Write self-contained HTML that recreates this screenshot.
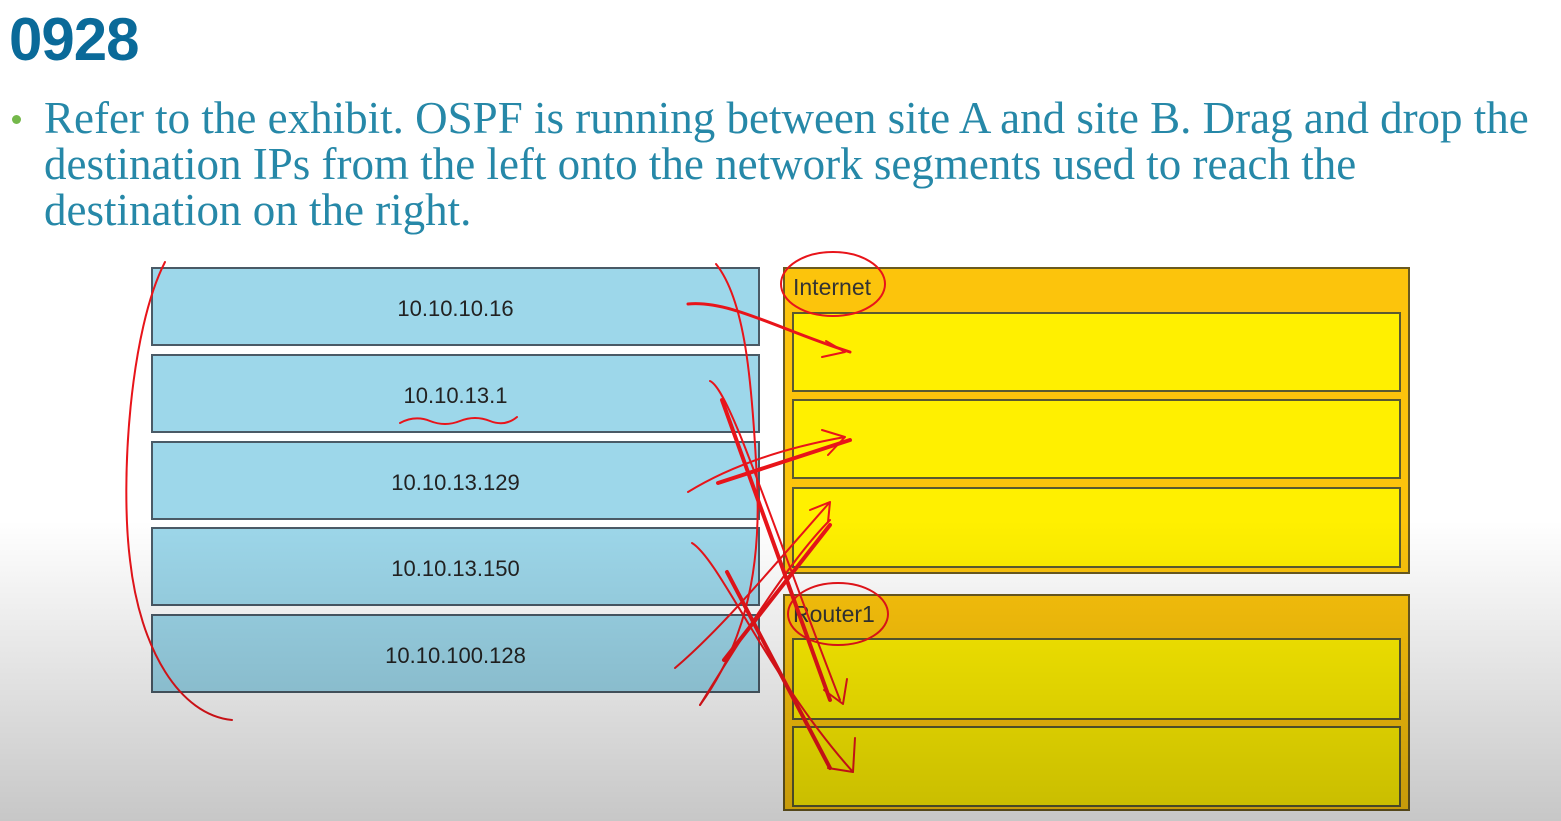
<!DOCTYPE html>
<html><head><meta charset="utf-8"><style>
html,body{margin:0;padding:0}
body{width:1561px;height:821px;position:relative;overflow:hidden;background:#fff;font-family:"Liberation Sans",sans-serif}
.t{position:absolute;left:9px;top:5px;font:bold 60px "Liberation Sans",sans-serif;color:#0a6a99;letter-spacing:-1px}
.b{position:absolute;left:44px;top:95px;font:45px/46px "Liberation Serif",serif;color:#2688a8;white-space:nowrap}
.dot{position:absolute;left:12px;top:115px;width:9px;height:9px;border-radius:50%;background:#74b84a}
.l{position:absolute;left:151px;width:609px;height:79px;background:#9dd7ea;border:2px solid #4a5a66;box-sizing:border-box;text-align:center;font-size:22px;color:#222;line-height:80px}
.g{position:absolute;left:783px;width:627px;background:#fcc40c;border:2px solid #6a5a20;box-sizing:border-box}
.g span{position:absolute;left:8px;top:5px;font-size:23px;color:#333}
.i{position:absolute;left:7px;width:609px;background:#fff000;border:2px solid #5a5a30;box-sizing:border-box}
.ov{position:absolute;left:0;top:0;width:1561px;height:821px;background:linear-gradient(to bottom,rgba(0,0,0,0) 0,rgba(0,0,0,0) 520px,rgba(0,0,0,0.22) 821px)}
</style></head><body>
<div class="t">0928</div>
<div class="dot"></div>
<div class="b">Refer to the exhibit. OSPF is running between site A and site B. Drag and drop the<br>destination IPs from the left onto the network segments used to reach the<br>destination on the right.</div>
<div class="l" style="top:267px">10.10.10.16</div>
<div class="l" style="top:354px">10.10.13.1</div>
<div class="l" style="top:441px">10.10.13.129</div>
<div class="l" style="top:527px">10.10.13.150</div>
<div class="l" style="top:614px">10.10.100.128</div>
<div class="g" style="top:267px;height:307px"><span>Internet</span>
<div class="i" style="top:43px;height:80px"></div>
<div class="i" style="top:130px;height:80px"></div>
<div class="i" style="top:218px;height:81px"></div></div>
<div class="g" style="top:594px;height:217px"><span>Router1</span>
<div class="i" style="top:42px;height:82px"></div>
<div class="i" style="top:130px;height:81px"></div></div>
<svg style="position:absolute;left:0;top:0" width="1561" height="821" fill="none" stroke="#e8141a" stroke-linecap="round" stroke-linejoin="round">
<path stroke-width="2" d="M165,262 C130,330 120,480 130,560 C140,650 180,715 232,720"/>
<path stroke-width="2" d="M716,264 C745,300 752,380 757,480 C762,580 740,650 700,705"/>
<path stroke-width="2" d="M400,423 q15,-8 30,-2 t30,0 t30,0 t27,-4"/>
<ellipse stroke-width="2" cx="833" cy="284" rx="52" ry="32"/>
<ellipse stroke-width="2" cx="838" cy="614" rx="50" ry="31"/>
<path stroke-width="3" d="M688,304 C730,300 780,330 850,352"/>
<path stroke-width="2" d="M826,341 L845,352 L822,357"/>
<path stroke-width="2" d="M688,492 C740,460 800,445 845,437 M822,430 L845,437 L828,455"/>
<path stroke-width="4" d="M718,483 L850,440"/>
<path stroke-width="2" d="M675,668 C720,630 770,570 830,502 M810,510 L830,502 L828,522"/>
<path stroke-width="4" d="M724,660 L830,525"/>
<path stroke-width="2" d="M700,705 C740,640 790,560 830,520"/>
<path stroke-width="2" d="M710,381 C730,390 770,520 840,700"/>
<path stroke-width="4" d="M722,400 L830,700"/>
<path stroke-width="2" d="M824,690 L843,704 L847,679"/>
<path stroke-width="2" d="M692,543 C720,560 770,680 853,772"/>
<path stroke-width="4" d="M727,572 L830,768"/>
<path stroke-width="2" d="M855,738 L853,772 L828,768"/>
</svg>
<div class="ov"></div>
</body></html>
